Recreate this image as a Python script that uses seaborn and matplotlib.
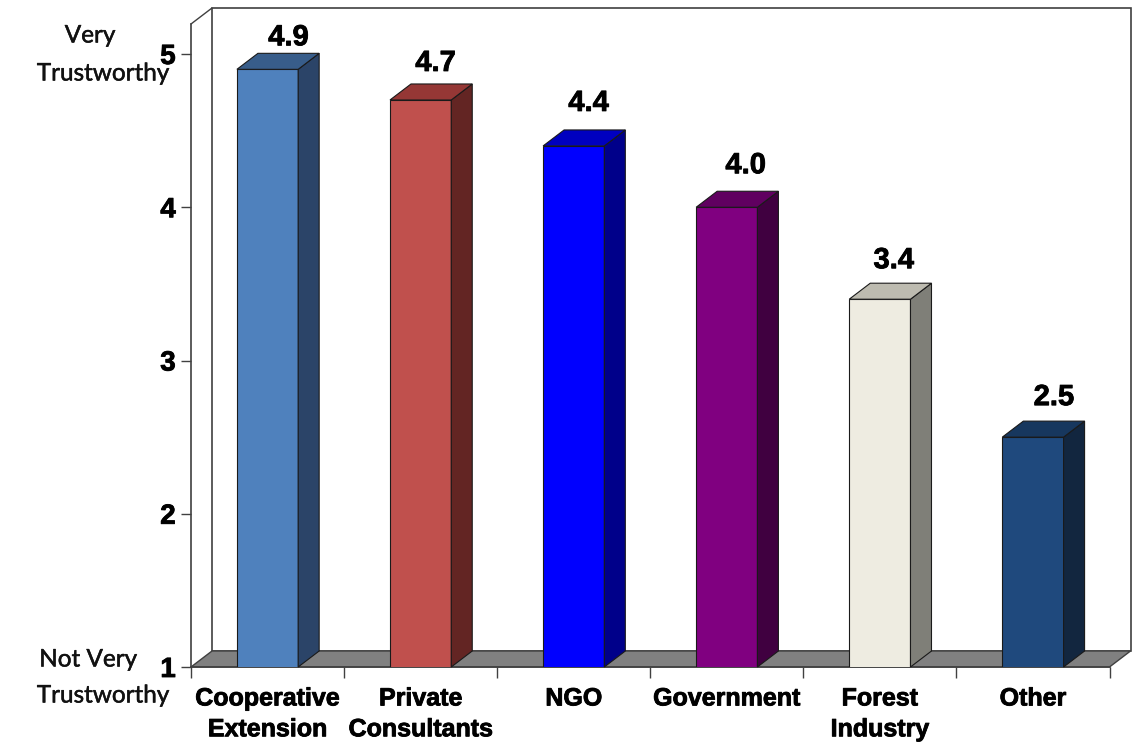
# -*- coding: utf-8 -*-
import matplotlib
matplotlib.use("Agg")
import matplotlib.pyplot as plt
import matplotlib.patheffects as pe
from matplotlib.patches import Polygon
import numpy as np
import pandas as pd
import seaborn as sns

categories = ["Cooperative\nExtension", "Private\nConsultants", "NGO", "Government", "Forest\nIndustry", "Other"]
scores = [4.9, 4.7, 4.4, 4.0, 3.4, 2.5]
front_colors = ["#4F81BD", "#C0504D", "#0000FF", "#800080", "#EEECE1", "#1F497D"]
side_colors = ["#2B4468", "#632523", "#00008A", "#400040", "#7F7F78", "#12263F"]
top_colors = ["#385D8A", "#953735", "#0000C0", "#600060", "#BDBBB0", "#17375E"]
y_ticks = [1, 2, 3, 4, 5]
# the value labels were placed by hand in the original, pixels from bar top centre
label_dx = [21, 15, 15, 19, 14, 21]
label_dy = [32, 37, 43, 42, 39, 40]

W, H = 1135, 742
sns.set_style("white")
plt.rcParams["font.family"] = ["Liberation Sans", "DejaVu Sans"]

fig = plt.figure(figsize=(W / 100, H / 100), dpi=100)
# y=1 sits at pixel 667, y=5 at pixel 54
unit = (667 - 54) / 4
top_px = 24
ax = fig.add_axes([191 / W, (H - 667) / H, 918.5 / W, (667 - top_px) / H])

df = pd.DataFrame({"source": categories, "score": scores})
sns.barplot(data=df, x="source", y="score", hue="source", palette=front_colors,
            legend=False, width=0.40, saturation=1, ax=ax, zorder=5,
            edgecolor="#1a1a1a", linewidth=0.8)
ax.set_xlim(-0.5, 5.5)
ax.set_ylim(1, 5 + (54 - top_px) / unit)
ax.set_xlabel("")
ax.set_ylabel("")

# depth of the fake 3d, in data units
dx = 21 / (918.5 / 6)
dy = 16 / unit
line = "#404040"
xl, xr = ax.get_xlim()
yb, yt = ax.get_ylim()

# back wall and floor
ax.add_patch(Polygon([(xl + dx, yb + dy), (xr + dx, yb + dy), (xr + dx, yt + dy), (xl + dx, yt + dy)],
                     closed=True, fc="white", ec=line, lw=1.2, clip_on=False, zorder=1))
ax.add_patch(Polygon([(xl, yb), (xl + dx, yb + dy), (xr + dx, yb + dy), (xr, yb)],
                     closed=True, fc="#808080", ec=line, lw=1.0, clip_on=False, zorder=2))
ax.plot([xl, xl + dx], [yt, yt + dy], color=line, lw=1.0, clip_on=False, zorder=2)

# sides, tops and value labels of the bars
for i, bar in enumerate(ax.patches[:len(scores)]):
    x0 = bar.get_x()
    x1 = x0 + bar.get_width()
    v = scores[i]
    ax.add_patch(Polygon([(x1, yb), (x1 + dx, yb + dy), (x1 + dx, v + dy), (x1, v)],
                         closed=True, fc=side_colors[i], ec="#1a1a1a", lw=0.8, clip_on=False, zorder=6))
    ax.add_patch(Polygon([(x0, v), (x0 + dx, v + dy), (x1 + dx, v + dy), (x1, v)],
                         closed=True, fc=top_colors[i], ec="#1a1a1a", lw=0.8, clip_on=False, zorder=6))
    ax.annotate(f"{v:.1f}", (x0 + bar.get_width() / 2, v), xytext=(label_dx[i], label_dy[i]),
                textcoords="offset pixels", ha="center", va="center", fontsize=21, fontweight="bold",
                color="black", path_effects=[pe.withStroke(linewidth=0.6, foreground="black")], zorder=8)

sns.despine(ax=ax, top=True, right=True, left=False, bottom=False)
for side in ["left", "bottom"]:
    ax.spines[side].set_color(line)
    ax.spines[side].set_linewidth(1.2)
    ax.spines[side].set_zorder(3)

ax.set_yticks(y_ticks)
ax.set_yticklabels([str(t) for t in y_ticks], fontsize=20, fontweight="bold", color="black")
ax.tick_params(axis="y", left=True, length=7, width=1, color=line, pad=4)
ax.set_xticks(range(len(categories)))
ax.set_xticklabels(categories, fontsize=18, fontweight="bold", color="black", linespacing=1.36)
ax.set_xticks(np.arange(xl, xr + 0.01, 1), minor=True)
ax.tick_params(axis="x", which="major", bottom=False, pad=10.5)
ax.tick_params(axis="x", which="minor", bottom=True, length=8, width=1, color=line)

for lab in ax.get_xticklabels() + ax.get_yticklabels():
    lab.set_path_effects([pe.withStroke(linewidth=0.6, foreground="black")])

# scale end captions
cap = dict(family="Lato", fontsize=17.5, color="#111111", ha="center", va="center",
           path_effects=[pe.withStroke(linewidth=0.35, foreground="#111111")])
fig.text(90 / W, 1 - 36 / H, "Very", **cap)
fig.text(103 / W, 1 - 74 / H, "Trustworthy", **cap)
fig.text(88 / W, 1 - 660 / H, "Not Very", **cap)
fig.text(103 / W, 1 - 696 / H, "Trustworthy", **cap)

fig.savefig("out.png", dpi=100)
